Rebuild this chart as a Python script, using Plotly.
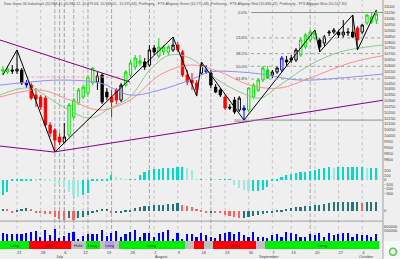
import plotly.graph_objects as go
import pandas as pd

# ---------------- data ----------------
days = [d for d in pd.bdate_range("2010-06-16", "2010-10-07")
        if d.strftime("%m-%d") not in ("07-05", "09-06")]
pos = list(range(len(days)))

open_ = [10553,10545,10562,10553,10562,10451,10433,10348,10331,10322,
         10092,10049,9989,9946,10006,10160,10280,10331,10365,10451,
         10459,10519,10374,10331,10391,10305,10433,10519,10587,10622,
         10630,10604,10750,10681,10716,10716,10733,10775,10716,10519,
         10476,10451,10536,10562,10536,10416,10391,10331,10245,10305,
         10220,10237,10220,10331,10391,10476,10562,10519,10545,10562,
         10647,10664,10647,10690,10758,10818,10835,10818,10792,10878,
         10886,10886,10861,10878,10886,10921,10886,10963,10972,10989]
high = [10596,10596,10604,10733,10579,10476,10451,10408,10348,10339,
        10117,10066,10023,10109,10280,10322,10408,10433,10519,10587,
        10545,10536,10408,10391,10408,10451,10562,10647,10690,10690,
        10664,10775,10775,10835,10775,10775,10844,10801,10733,10562,
        10536,10476,10630,10604,10562,10442,10408,10348,10271,10331,
        10339,10263,10416,10451,10493,10596,10596,10562,10596,10681,
        10681,10690,10750,10835,10878,10904,10904,10835,10861,10904,
        10921,10904,10989,10921,11032,10938,10955,11040,11049,11075]
low = [10519,10528,10528,10528,10433,10408,10305,10245,10220,10075,
       9989,9861,9921,9938,9989,10143,10263,10314,10348,10433,
       10391,10271,10305,10160,10271,10288,10416,10502,10562,10596,
       10562,10587,10690,10664,10690,10690,10716,10716,10502,10433,
       10391,10339,10519,10528,10408,10365,10331,10220,10220,10186,
       10203,10134,10203,10314,10374,10459,10485,10493,10528,10545,
       10596,10622,10630,10673,10741,10801,10818,10716,10767,10852,
       10869,10835,10835,10852,10835,10733,10869,10946,10955,10955]
close = [10562,10570,10553,10570,10451,10433,10322,10314,10245,10092,
         10023,9963,9946,9989,10263,10305,10391,10416,10502,10579,
         10510,10288,10331,10288,10305,10433,10545,10622,10664,10639,
         10587,10733,10716,10758,10758,10758,10775,10733,10519,10459,
         10451,10391,10604,10545,10433,10374,10348,10237,10237,10203,
         10322,10220,10408,10433,10476,10579,10493,10545,10579,10664,
         10630,10647,10733,10818,10861,10886,10878,10758,10844,10886,
         10904,10861,10886,10886,10844,10818,10946,11032,11015,11040]
zone = list("ggkkkbrrrr" "rrrkgggggg" "kkkrrkgggg" "kkkgggkrrr"
            "rrkbkkkrkk" "kbgggggkkb" "kkkggggkkk" "kkkkkrkggg")

# alligator lines (position, value)
lips_x = [-0.6, 5.7, 12.1, 18.4, 22.7, 26.9, 31.1, 35.3, 39.6, 44.9, 50.1, 54.4, 58.6, 64.9, 71.3, 80.4, 82]
lips_y = [10348, 10408, 10263, 10151, 10237, 10331, 10562, 10690, 10664, 10493, 10374, 10322, 10433, 10604,
          10716, 10775, 10780]
teeth_x = [-0.6, 7.9, 14.2, 20.5, 26.9, 33.2, 39.6, 45.9, 52.2, 58.6, 64.9, 73.4, 80.4, 82]
teeth_y = [10331, 10391, 10305, 10220, 10305, 10519, 10604, 10545, 10433, 10408, 10493, 10622, 10684, 10690]
jaw_x = [-0.6, 5.7, 12.1, 20.5, 26.9, 33.2, 39.6, 43.8, 50.1, 54.4, 62.8, 71.3, 80.4, 82]
jaw_y = [10433, 10459, 10476, 10451, 10348, 10391, 10476, 10545, 10545, 10528, 10476, 10493, 10527, 10530]

# horizontal pink dashed level (position range, value)
pink_x = [5.0, 27.0]
pink_y = [10502, 10502]

# zigzag pivots (position, which)
zig_pos = [0, 3, 11, 36, 41, 42, 51, 66, 67, 74, 75, 79]
zig_kind = ["L", "H", "L", "H", "L", "H", "L", "H", "L", "H", "L", "H"]

# trend lines (position, value)
down_line_x = [-0.6, 26.9]
down_line_y = [10818, 10459]
up_line_x = [-0.6, 10.8, 80.6]
up_line_y = [9912, 9861, 10305]

# fibonacci retracement
fib_top = 11053
fib_bottom = 10134
fib_start = 52.5
fib_levels = [0.0, 23.6, 38.2, 50.0, 61.8, 100.0]

# fibonacci time zones (positions of dashed lines)
time_zones = [11, 12, 13, 15, 18, 23, 31, 44, 65]

# awesome oscillator
ao = [-330, -260, -15, -10, -10, -10, -5, -10, 20, -10,
      -20, -40, -110, -175, -265, -330, -375, -330, -285, -10,
      -10, -5, -5, 110, 65, 45, 20, 20, 20, 110,
      175, 220, 240, 240, 265, 265, 265, 285, 285, 265,
      220, 20, 20, 10, 20, 10, 10, 10, 10, -110,
      -175, -220, -240, -240, -240, -220, -155, -20, -10, 65,
      110, 130, 155, 175, 175, 200, 220, 240, 265, 285,
      265, 285, 285, 285, 285, 285, 285, 265, 265, 265]
# accelerator oscillator
ac = [25, 20, -10, 10, 25, 30, 20, -10, -15, -25,
      -30, -60, -80, -90, -70, -90, -70, -60, -40, -20,
      10, 20, 25, -15, -15, -10, 10, 15, 30, 40,
      50, 55, 60, 60, 65, 70, 75, 80, 60, 50,
      40, 20, 10, -10, -10, -15, -20, -35, -50, -60,
      -70, -70, -60, -50, -40, -30, -15, -10, 10, 15,
      20, 30, 40, 45, 50, 55, 60, 65, 70, 80,
      90, 95, 95, 95, 95, 95, 85, 95, 95, 95]
volume = [450000, 425000, 425000, 425000, 425000, 450000, 475000, 500000, 350000, 525000,
          400000, 550000, 325000, 375000, 450000, 475000, 300000, 375000, 425000, 425000,
          425000, 525000, 375000, 450000, 500000, 350000, 425000, 475000, 525000, 350000,
          450000, 450000, 350000, 450000, 475000, 525000, 300000, 450000, 300000, 425000,
          425000, 350000, 450000, 400000, 340000, 320000, 420000, 440000, 470000, 420000,
          470000, 400000, 350000, 470000, 360000, 340000, 320000, 400000, 420000, 360000,
          470000, 450000, 420000, 360000, 360000, 420000, 400000, 450000, 350000, 460000,
          400000, 420000, 460000, 450000, 360000, 420000, 400000, 400000, 350000, 420000]

# trade state band: (first position, last position, label, colour)
states = [(0, 5, "Long", "#00ee00"), (6, 14, "Short", "#ff0000"), (15, 17, "Hold", "#c0c0c0"),
          (18, 20, "Long", "#00ee00"), (21, 21, "", "#c0c0c0"), (22, 23, "Long", "#b8a0e0"),
          (24, 24, "", "#c0c0c0"), (25, 38, "Long", "#00ee00"), (39, 40, "", "#c0c0c0"),
          (41, 42, "", "#ff0000"), (43, 44, "", "#c0c0c0"), (45, 53, "Short", "#ff0000"),
          (54, 55, "", "#c0c0c0"), (56, 79, "Long", "#00ee00")]

price_ticks = list(range(9800, 11101, 50))
title_text = ("Dow Jones 30 Industrials (10,968.41, 10,982.12, 10,979.04, 10,948.01, -10,370.63), "
              "Profitunity - FTS Alligator Green (10,775.48), Profitunity - FTS Alligator Red (10,684.42), "
              "Profitunity - FTS Alligator Blue (10,527.30)")

# ---------------- figure ----------------
FONT = "Liberation Sans"
fig = go.Figure()

zone_style = {
    "g": ("#00e000", "#ddffdd", "#00e000"),
    "r": ("#ff0000", "#ffdddd", "#ff0000"),
    "k": ("#000000", "#ffffff", "#000000"),
    "b": ("#0000ff", "#ffffff", "#0000ff"),
}

for xs, ys, col in [(jaw_x, jaw_y, "#8c8cff"), (teeth_x, teeth_y, "#ff8c8c"), (lips_x, lips_y, "#8cc88c")]:
    fig.add_trace(go.Scatter(x=xs, y=ys, mode="lines", line=dict(color=col, width=1, shape="spline"),
                             showlegend=False, hoverinfo="skip", xaxis="x", yaxis="y"))
fig.add_trace(go.Scatter(x=pink_x, y=pink_y, mode="lines", line=dict(color="#ffa0a0", width=1, dash="3px,2px"),
                         showlegend=False, hoverinfo="skip", xaxis="x", yaxis="y"))

for z, (lc, upf, dnf) in zone_style.items():
    ids = [i for i in pos if zone[i] == z]
    fig.add_trace(go.Candlestick(
        x=ids, open=[open_[i] for i in ids], high=[high[i] for i in ids],
        low=[low[i] for i in ids], close=[close[i] for i in ids],
        increasing=dict(line=dict(color=lc, width=1), fillcolor=upf),
        decreasing=dict(line=dict(color=lc, width=1), fillcolor=dnf),
        whiskerwidth=0, showlegend=False, hoverinfo="skip", xaxis="x", yaxis="y"))

zig_y = [high[p] if k == "H" else low[p] for p, k in zip(zig_pos, zig_kind)]
fig.add_trace(go.Scatter(x=zig_pos, y=zig_y, mode="lines", line=dict(color="#000000", width=1),
                         showlegend=False, hoverinfo="skip", xaxis="x", yaxis="y"))
for xs, ys in [(down_line_x, down_line_y), (up_line_x, up_line_y)]:
    fig.add_trace(go.Scatter(x=xs, y=ys, mode="lines", line=dict(color="#800080", width=1),
                             showlegend=False, hoverinfo="skip", xaxis="x", yaxis="y"))

# fib lines
for lv in fib_levels:
    v = fib_top - (fib_top - fib_bottom) * lv / 100.0
    solid = lv in (0.0, 100.0)
    fig.add_trace(go.Scatter(x=[fib_start, 80.4], y=[v, v], mode="lines",
                             line=dict(color="#909090" if solid else "#a0a0a0", width=1,
                                       dash="solid" if solid else "dot"),
                             showlegend=False, hoverinfo="skip", xaxis="x", yaxis="y"))
    fig.add_annotation(x=fib_start - 0.3, y=v, xref="x", yref="y", text=f"{lv:.1f}%",
                       showarrow=False, xanchor="right", yanchor="middle",
                       font=dict(size=4, color="#404040", family=FONT))

ao_col = ["#00dcc8" if i == 0 or ao[i] >= ao[i - 1] else "#9ee8e0" for i in pos]
fig.add_trace(go.Bar(x=pos, y=ao, marker=dict(color=ao_col, line=dict(width=0)), width=0.35,
                     showlegend=False, hoverinfo="skip", xaxis="x", yaxis="y2"))
ac_col = ["#207878" if i == 0 or ac[i] >= ac[i - 1] else "#ff6060" for i in pos]
fig.add_trace(go.Bar(x=pos, y=ac, marker=dict(color=ac_col, line=dict(width=0)), width=0.35,
                     showlegend=False, hoverinfo="skip", xaxis="x", yaxis="y3"))
fig.add_trace(go.Bar(x=pos, y=[v - 250000 for v in volume], base=250000,
                     marker=dict(color="#0000ff", line=dict(width=0)), width=0.35,
                     showlegend=False, hoverinfo="skip", xaxis="x", yaxis="y4"))

band_col = [None] * len(pos)
for a, b, lab, col in states:
    for i in range(a, b + 1):
        band_col[i] = col
    if lab:
        fig.add_annotation(x=(a + b) / 2, y=0.5, xref="x", yref="y5", text=lab, showarrow=False,
                           font=dict(size=4, color="#303030", family=FONT))
fig.add_trace(go.Bar(x=pos, y=[1] * len(pos), marker=dict(color=band_col, line=dict(width=0)), width=1,
                     showlegend=False, hoverinfo="skip", xaxis="x", yaxis="y5"))

# x ticks: first trading day of each week / month
week_ticks, week_text, month_pos, month_text = [], [], [], []
for i, d in enumerate(days):
    if i > 0 and d.isocalendar()[1] != days[i - 1].isocalendar()[1]:
        week_ticks.append(i)
        week_text.append(str(d.day))
    if i > 0 and d.month != days[i - 1].month:
        month_pos.append(i)
        month_text.append(d.strftime("%B"))
for p, t in zip(month_pos, month_text):
    fig.add_annotation(x=p - 0.2, y=-0.032, xref="x", yref="paper", text=t, showarrow=False,
                       xanchor="left", yanchor="middle", font=dict(size=4, color="#404040", family=FONT))

shapes = []
for p in week_ticks:
    shapes.append(dict(type="line", xref="x", yref="paper", x0=p, x1=p, y0=0.032, y1=1,
                       line=dict(color="#c4c4c4", width=1, dash="dot"), layer="below"))
for p in time_zones:
    shapes.append(dict(type="line", xref="x", yref="paper", x0=p, x1=p, y0=0.032, y1=1,
                       line=dict(color="#a8a8a8", width=1, dash="4px,2px"), layer="below"))
shapes.append(dict(type="line", xref="paper", yref="paper", x0=0, x1=1, y0=0.112, y1=0.112,
                   line=dict(color="#a0a0a0", width=1)))
shapes.append(dict(type="line", xref="paper", yref="paper", x0=1, x1=1, y0=-0.04, y1=1,
                   line=dict(color="#a0a0a0", width=1)))
# corner box with logo
shapes.append(dict(type="rect", xref="paper", yref="paper", x0=1.002, x1=1.05, y0=-0.045, y1=0.032,
                   line=dict(width=0), fillcolor="#f8f8f8"))
shapes.append(dict(type="circle", xref="paper", yref="paper", x0=1.017, x1=1.035, y0=-0.025, y1=0.003,
                   line=dict(color="#40d040", width=1.5), fillcolor="#f8f8f8"))

fig.add_annotation(x=0.005, y=1.0, xref="paper", yref="paper", text=title_text, showarrow=False,
                   xanchor="left", yanchor="top", font=dict(size=3.6, color="#505050", family=FONT))

ax_font = dict(size=4, color="#404040", family=FONT)
common_y = dict(side="right", showgrid=False, zeroline=False, tickfont=ax_font, ticks="", fixedrange=True,
                showline=False, tickformat="d")
fig.update_layout(
    width=400, height=259, margin=dict(l=0, r=17, t=0, b=10),
    paper_bgcolor="#efefef", plot_bgcolor="#efefef",
    bargap=0, showlegend=False, shapes=shapes,
    xaxis=dict(range=[-0.6, 80.4], anchor="y5", tickvals=week_ticks, ticktext=week_text,
               tickfont=ax_font, showgrid=False, zeroline=False, ticks="", rangeslider=dict(visible=False),
               ticklabelposition="outside right"),
    yaxis=dict(domain=[0.349, 1], range=[9775, 11160], tickvals=price_ticks, **common_y),
    yaxis2=dict(domain=[0.201, 0.349], range=[-418, 396], tickvals=[200, 100, 0, -100, -200, -300], **common_y),
    yaxis3=dict(domain=[0.112, 0.201], range=[-100, 120], tickvals=[0], **common_y),
    yaxis4=dict(domain=[0.032, 0.112], range=[250000, 750000], tickvals=[500000, 600000], **common_y),
    yaxis5=dict(domain=[0, 0.032], range=[0, 1], showticklabels=False,
                **{k: v for k, v in common_y.items() if k != "tickfont"}),
)
fig.write_html("out.html")
